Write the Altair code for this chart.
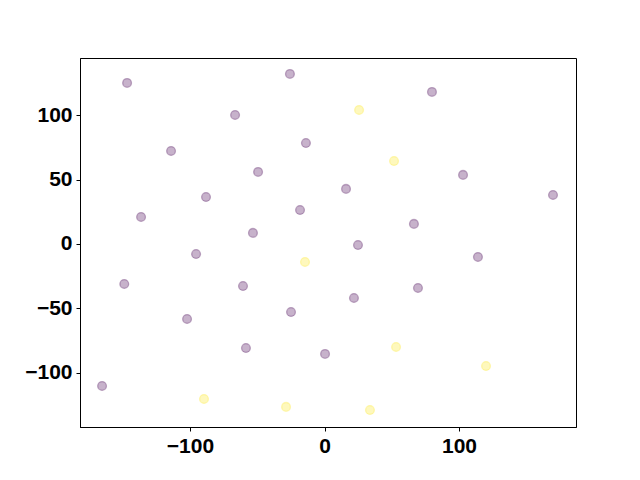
import altair as alt
import pandas as pd

xs = [-146.8, -25.7, 79.9, 25.7, -66.5, -114.1, -13.8, 51.7, -49.4, 103.0, 16.0, 169.9,
      -88.1, -18.2, -136.4, 66.5, -53.2, 24.9, -95.5, -14.5, 114.1, -148.9, -60.6, 69.5,
      21.9, -24.9, -102.2, -58.4, 53.2, 0.4, 120.1, -165.4, -89.6, -28.6, 33.8]
ys = [125.2, 132.2, 118.2, 104.2, 100.3, 72.3, 78.5, 64.5, 56.0, 53.7, 42.8, 38.1,
      36.5, 26.4, 21.0, 15.6, 8.6, -0.8, -7.8, -14.0, -10.1, -31.1, -32.7, -34.2,
      -42.0, -52.9, -58.3, -80.9, -80.1, -85.5, -94.9, -110.4, -120.5, -126.7, -129.1]
labels = [0, 0, 0, 1, 0, 0, 0, 1, 0, 0, 0, 0,
          0, 0, 0, 0, 0, 0, 0, 1, 0, 0, 0, 0,
          0, 0, 0, 0, 1, 0, 1, 0, 1, 1, 1]

df = pd.DataFrame({"x": xs, "y": ys, "label": labels})

color_scale = alt.Scale(domain=[0, 1], range=["#440154", "#fde725"])
minus_expr = "replace(datum.label, '-', '\u2212')"

chart = alt.Chart(df).mark_point(
    shape="circle", filled=True, size=78, fillOpacity=0.3, strokeOpacity=0.3, strokeWidth=1.3
).encode(
    x=alt.X("x:Q", scale=alt.Scale(domain=[-181.8, 187.0], nice=False, zero=False),
            axis=alt.Axis(values=[-100, 0, 100], title=None, grid=False, labelExpr=minus_expr)),
    y=alt.Y("y:Q", scale=alt.Scale(domain=[-142.3, 144.6], nice=False, zero=False),
            axis=alt.Axis(values=[-100, -50, 0, 50, 100], title=None, grid=False, labelExpr=minus_expr)),
    color=alt.Color("label:N", scale=color_scale, legend=None),
    fill=alt.Fill("label:N", scale=color_scale, legend=None),
    stroke=alt.Stroke("label:N", scale=color_scale, legend=None),
).properties(
    width=496, height=369,
    autosize=alt.AutoSizeParams(type="none"),
    padding={"left": 72, "top": 50, "right": 56, "bottom": 45},
).configure_view(
    stroke="black", strokeWidth=1
).configure_axis(
    domainColor="black", tickColor="black", tickSize=4, labelPadding=4,
    labelFont="Liberation Sans", labelFontSize=21, labelFontWeight="bold", labelColor="black",
    domainWidth=1, tickWidth=1
)

chart.save("out.html", embed_options={"renderer": "svg", "actions": False})
